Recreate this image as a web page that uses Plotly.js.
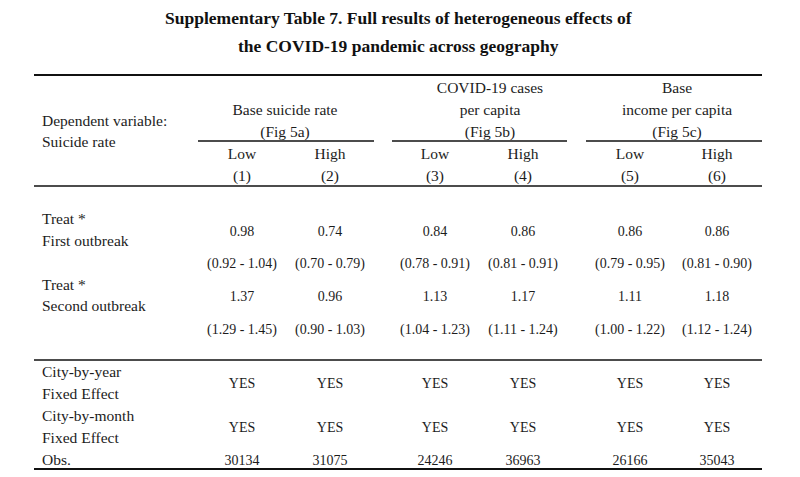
<!DOCTYPE html>
<html><head><meta charset="utf-8">
<script src="https://cdn.plot.ly/plotly-3.0.1.min.js"></script>
<style>html,body{margin:0;padding:0;background:#fff}#chart{width:800px;height:477px}</style>
</head><body><div id="chart"></div>
<script>
// ---- table content ----
const titleLines = ['Supplementary Table 7. Full results of heterogeneous effects of', 'the COVID-19 pandemic across geography'];
const stubHeader = ['Dependent variable:', 'Suicide rate'];
const groupHeaders = [['Base suicide rate', '(Fig 5a)'], ['COVID-19 cases', 'per capita', '(Fig 5b)'], ['Base', 'income per capita', '(Fig 5c)']];
const subgroups = ['Low', 'High', 'Low', 'High', 'Low', 'High'];
const columnNumbers = ['(1)', '(2)', '(3)', '(4)', '(5)', '(6)'];
const rowLabels = ['Treat *', 'First outbreak', 'Treat *', 'Second outbreak', 'City-by-year', 'Fixed Effect', 'City-by-month', 'Fixed Effect', 'Obs.'];
const coefFirst = [0.98, 0.74, 0.84, 0.86, 0.86, 0.86];
const ciFirstLow = [0.92, 0.70, 0.78, 0.81, 0.79, 0.81];
const ciFirstHigh = [1.04, 0.79, 0.91, 0.91, 0.95, 0.90];
const coefSecond = [1.37, 0.96, 1.13, 1.17, 1.11, 1.18];
const ciSecondLow = [1.29, 0.90, 1.04, 1.11, 1.00, 1.12];
const ciSecondHigh = [1.45, 1.03, 1.23, 1.24, 1.22, 1.24];
const cityYearFE = ['YES', 'YES', 'YES', 'YES', 'YES', 'YES'];
const cityMonthFE = ['YES', 'YES', 'YES', 'YES', 'YES', 'YES'];
const observations = [30134, 31075, 24246, 36963, 26166, 35043];

// ---- layout (pixel grid) ----
const colX = [242, 330, 435, 523, 630, 717];
const groupX = [285, 490, 677];
const groupRules = [[198, 374], [392, 567], [586, 762]];
const tableL = 34, tableR = 762, labelX = 42;
const rowLabelY = [220, 242, 286, 307, 373, 395, 417, 439, 461];
const stubY = [122, 143];
const groupBottomY = 133, headLine = 22;
const ySub = 155, yNum = 177;
const yCoef1 = 232, yCi1 = 264, yCoef2 = 297, yCi2 = 330, yFEy = 384, yFEm = 428, yObs = 461;
const ink = '#1c1c1c';
const serif = 'Liberation Serif, Times New Roman, serif';
const fWord = {family: serif, size: 15.5, color: ink};
const fNum = {family: serif, size: 14, color: ink};

const fmtCI = (lo, hi) => '(' + lo.toFixed(2) + ' - ' + hi.toFixed(2) + ')';

function textTrace(xs, ys, texts, font, pos) {
  return {type: 'scatter', mode: 'text', x: xs, y: ys, text: texts,
    textposition: pos || 'middle center', textfont: font, hoverinfo: 'skip', showlegend: false, cliponaxis: false};
}
const rep = (v, n) => Array(n).fill(v);

const traces = [];
// group headers
const gx = [], gy = [], gt = [];
groupHeaders.forEach((lines, g) => {
  lines.forEach((t, i) => { gx.push(groupX[g]); gy.push(groupBottomY - (lines.length - 1 - i) * headLine); gt.push(t); });
});
traces.push(textTrace(gx, gy, gt, fWord));
traces.push(textTrace(colX, rep(ySub, 6), subgroups, fWord));
traces.push(textTrace(colX, rep(yNum, 6), columnNumbers, fWord));
// stub
traces.push(textTrace(rep(labelX, 2), stubY, stubHeader, fWord, 'middle right'));
traces.push(textTrace(rep(labelX, rowLabels.length), rowLabelY, rowLabels, fWord, 'middle right'));
// body
traces.push(textTrace(colX, rep(yCoef1, 6), coefFirst.map(v => v.toFixed(2)), fNum));
traces.push(textTrace(colX, rep(yCi1, 6), ciFirstLow.map((v, i) => fmtCI(v, ciFirstHigh[i])), fNum));
traces.push(textTrace(colX, rep(yCoef2, 6), coefSecond.map(v => v.toFixed(2)), fNum));
traces.push(textTrace(colX, rep(yCi2, 6), ciSecondLow.map((v, i) => fmtCI(v, ciSecondHigh[i])), fNum));
traces.push(textTrace(colX, rep(yFEy, 6), cityYearFE, fNum));
traces.push(textTrace(colX, rep(yFEm, 6), cityMonthFE, fNum));
traces.push(textTrace(colX, rep(yObs, 6), observations.map(String), fNum));

const line = (x0, x1, y, w) => ({type: 'line', xref: 'x', yref: 'y', x0: x0, x1: x1, y0: y, y1: y, line: {color: '#111', width: w}});
const shapes = [line(tableL, tableR, 75, 2), line(tableL, tableR, 186, 1.6), line(tableL, tableR, 360, 1.6), line(tableL, tableR, 469, 1.8)];
groupRules.forEach(r => shapes.push(line(r[0], r[1], 141, 1.6)));

const annotations = titleLines.map((t, i) => ({xref: 'x', yref: 'y', x: 398, y: 18 + i * 28, text: '<b>' + t + '</b>',
  showarrow: false, xanchor: 'center', yanchor: 'middle', font: {family: serif, size: 17.5, color: '#111'}}));

const layout = {
  width: 800, height: 477, margin: {l: 0, r: 0, t: 0, b: 0}, paper_bgcolor: '#fff', plot_bgcolor: '#fff',
  xaxis: {range: [0, 800], visible: false, fixedrange: true},
  yaxis: {range: [477, 0], visible: false, fixedrange: true},
  shapes: shapes, annotations: annotations, showlegend: false
};
Plotly.newPlot('chart', traces, layout, {staticPlot: true, displayModeBar: false});
</script></body></html>
